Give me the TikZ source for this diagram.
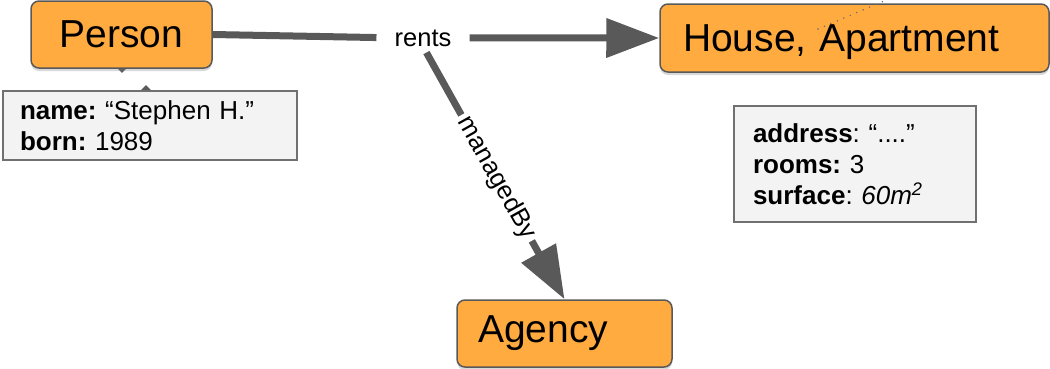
\documentclass[tikz,border=0pt]{standalone}
\usepackage{fontspec}
\setmainfont{Liberation Sans}
\usetikzlibrary{arrows.meta,shadows,shapes.geometric}
\definecolor{entityfill}{HTML}{FFAB40}
\definecolor{edgegray}{HTML}{595959}
\definecolor{propfill}{HTML}{F3F3F4}
\definecolor{propline}{HTML}{707070}
\definecolor{dotgray}{HTML}{6A6A6A}
\frenchspacing
\begin{document}
\begin{tikzpicture}[x=1pt,y=-1pt,
  entity/.style={draw=edgegray, line width=1.5pt, fill=entityfill, rounded corners=8pt,
    minimum height=67pt, inner ysep=0pt, font=\fontsize{39}{44}\selectfont,
    drop shadow={shadow xshift=0pt, shadow yshift=-3pt, opacity=0.3}},
  props/.style={draw=propline, line width=1.2pt, fill=propfill, align=left,
    inner ysep=0pt, font=\fontsize{26}{31}\selectfont},
  rel/.style={draw=edgegray, line width=7pt},
  reltip/.style={-{Triangle[length=53pt,width=38pt]}},
  rellabel/.style={font=\fontsize{25.5}{30}\selectfont, inner sep=0pt},
  handle/.style={diamond, fill=edgegray, inner sep=0pt, minimum size=10pt},
]
\useasboundingbox (0,0) rectangle (1050,368);

% attachment handles of the property box
\node[handle] (hPerson) at (122,68) {};
\node[handle] (hProps) at (146,90) {};

% entities
\node[entity, minimum width=181pt, align=center] (Person) at (121.5,34.5) {Person};
\node[entity, minimum width=389pt, minimum height=68pt, inner xsep=23pt, text width=343pt,
  align=left, text depth=0pt] (House) at (854.5,38) {House, Apartment};
\node[entity, minimum width=215pt, inner xsep=21pt, text width=173pt, align=left]
  (Agency) at (564.5,333.5) {Agency};

% dotted stray connector over the House node
\coordinate (dA) at (818,29);
\coordinate (dB) at (884,1);
\draw[dotgray, line width=1.6pt, line cap=round, dash pattern=on 0pt off 7pt] (dA) -- (dB);

% property boxes
\node[props, minimum width=294pt, minimum height=69pt, inner xsep=17pt, text width=260pt]
  (PersonProps) at (150,125.5)
  {\textbf{name:} “Stephen H.”\\ \textbf{born:} 1989};
\node[props, minimum width=242pt, minimum height=116pt, inner xsep=19pt, text width=204pt]
  (HouseProps) at (855,164)
  {\textbf{address}: “....”\\ \textbf{rooms:} 3\\ \textbf{surface}: \textit{60m\textsuperscript{2}}};

% relationships
\node[rellabel, anchor=base] (rents) at (423,46) {rents};
\draw[rel, shorten >=18pt] (Person.east) -- (rents.west);
\draw[rel, reltip, shorten <=18pt] (rents.east) -- (House.west);
\draw[rel, reltip, shorten <=7pt] (rents.south) -- (Agency.north)
  node[rellabel, pos=0.52, sloped, fill=white, inner xsep=4pt, inner ysep=2pt] (managedBy) {managedBy};
\end{tikzpicture}
\end{document}
